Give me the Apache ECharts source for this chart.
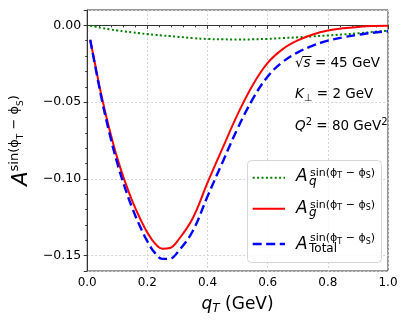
<!DOCTYPE html>
<html>
<head>
<meta charset="utf-8">
<script src="https://cdn.jsdelivr.net/npm/echarts@6/dist/echarts.min.js"></script>
<style>
  html, body { margin: 0; padding: 0; background: #fff; }
  #chart { width: 409px; height: 327px; }
</style>
</head>
<body>
<div id="chart"></div>
<script>
// q_T (GeV)
var qT = [0.01, 0.03, 0.05, 0.075, 0.1, 0.125, 0.15, 0.175, 0.2, 0.225, 0.25, 0.275, 0.3, 0.35,
          0.4, 0.45, 0.5, 0.55, 0.6, 0.65, 0.7, 0.75, 0.8, 0.85, 0.9, 0.95, 1.0];
// quark part (green dotted)
var aQ = [-0.0002, -0.0010, -0.0018, -0.0026, -0.0033, -0.0040, -0.0046, -0.0052, -0.0057, -0.0062,
          -0.0066, -0.0070, -0.0074, -0.0083, -0.0089, -0.0091, -0.0092, -0.0091, -0.0088, -0.0083,
          -0.0078, -0.0072, -0.0066, -0.0059, -0.0052, -0.0043, -0.0035];
// gluon part (red solid)
var aG = [-0.0093, -0.0290, -0.0480, -0.0685, -0.0865, -0.1015, -0.1145, -0.1255, -0.1350, -0.1420,
          -0.1455, -0.1450, -0.1405, -0.1260, -0.1025, -0.0800, -0.0580, -0.0390, -0.0245, -0.0155,
          -0.0098, -0.0060, -0.0034, -0.0019, -0.0010, -0.0005, -0.0003];
// total (blue dashed)
var aTot = [-0.0095, -0.0300, -0.0498, -0.0711, -0.0898, -0.1055, -0.1191, -0.1307, -0.1407, -0.1482,
            -0.1521, -0.1520, -0.1479, -0.1343, -0.1114, -0.0891, -0.0672, -0.0481, -0.0333, -0.0238,
            -0.0176, -0.0132, -0.0100, -0.0078, -0.0062, -0.0048, -0.0038];

var xTicks = [0, 0.2, 0.4, 0.6, 0.8, 1.0];
var FONT = 'DejaVu Sans';
var chart = echarts.init(document.getElementById('chart'));

function pairs(ys) {
    var out = [];
    for (var i = 0; i < qT.length; i++) out.push([qT[i], ys[i]]);
    return out;
}
function minus(v, d) {
    return v.toFixed(d).replace('-', '\u2212');
}

// superscript "sin(phi_T - phi_S)" for the legend
var supRich = {
    s: { fontFamily: FONT, fontSize: 11, lineHeight: 13, color: '#000' },
    t: { fontFamily: FONT, fontSize: 8, lineHeight: 8, padding: [6, 0, 0, 0], color: '#000' }
};
var supText = '{s|sin(\u03d5}{t|T}{s| \u2212 \u03d5}{t|S}{s|)}';

function txt(x, y, style) {
    style.align = 'left';
    style.verticalAlign = 'middle';
    if (!style.fill) style.fill = '#000';
    return { type: 'text', x: x, y: y, z: 100, style: style };
}

// legend (box, line samples, labels)
var legendRows = [
    { lineY: 177.7, aY: 176.5, supY: 173.3, subY: 181.8, sub: 'q', italic: true,
      stroke: '#008000', width: 2, dash: [2, 2.4] },
    { lineY: 208.7, aY: 208.5, supY: 205, subY: 213.3, sub: 'g', italic: true,
      stroke: '#ff0000', width: 2, dash: null },
    { lineY: 244, aY: 244.3, supY: 238.5, subY: 249, sub: 'Total', italic: false,
      stroke: '#0000ff', width: 2.4, dash: [9, 4.5] }
];
var graphics = [{
    type: 'rect', z: 99,
    shape: { x: 247.5, y: 160.5, width: 134, height: 102, r: 4 },
    style: { fill: 'rgba(255,255,255,0.85)', stroke: '#d6d6d6', lineWidth: 1 }
}];
legendRows.forEach(function (r) {
    graphics.push({
        type: 'line', z: 100,
        shape: { x1: 252.7, y1: r.lineY, x2: 285, y2: r.lineY },
        style: { stroke: r.stroke, lineWidth: r.width, lineDash: r.dash }
    });
    graphics.push(txt(296, r.aY, { text: 'A', font: 'italic 17px ' + FONT }));
    graphics.push(txt(310, r.supY, { text: supText, rich: supRich }));
    graphics.push(txt(309, r.subY, { text: r.sub, font: (r.italic ? 'italic ' : '') + '12px ' + FONT }));
});

// parameter annotations
var annRich = {
    m: { fontFamily: FONT, fontSize: 13.5, lineHeight: 18, color: '#000' },
    i: { fontFamily: FONT, fontSize: 13.5, lineHeight: 18, fontStyle: 'italic', color: '#000' },
    sp: { fontFamily: FONT, fontSize: 10, lineHeight: 10, verticalAlign: 'top', color: '#000' },
    sb: { fontFamily: FONT, fontSize: 10, lineHeight: 10, verticalAlign: 'bottom', color: '#000' }
};
graphics.push(
    txt(295, 63, { text: '{m|\u221a}{i|s}{m| = 45 GeV}', rich: annRich }),
    { type: 'line', z: 100, shape: { x1: 303, y1: 56.5, x2: 311.5, y2: 56.5 },
      style: { stroke: '#000', lineWidth: 1 } },
    txt(295, 94.5, { text: '{i|K}{sb|\u22a5}{m| = 2 GeV}', rich: annRich }),
    txt(295, 126.5, { text: '{i|Q}{sp|2}{m| = 80 GeV}{sp|2}', rich: annRich })
);

var option = {
    animation: false,
    backgroundColor: '#fff',
    grid: { left: 80, right: 21, top: 10, bottom: 56, show: true, borderColor: '#333', borderWidth: 1 },
    xAxis: {
        type: 'value', min: xTicks[0], max: xTicks[xTicks.length - 1], interval: 0.2,
        name: '{i|q}{sb|T}{m| (GeV)}',
        nameLocation: 'middle', nameGap: 24,
        nameTextStyle: {
            rich: {
                m: { fontFamily: FONT, fontSize: 17, lineHeight: 20, color: '#000' },
                i: { fontFamily: FONT, fontSize: 17, lineHeight: 20, fontStyle: 'italic', color: '#000' },
                sb: { fontFamily: FONT, fontSize: 12, lineHeight: 12, verticalAlign: 'bottom', fontStyle: 'italic', color: '#000' }
            }
        },
        axisLine: { show: true, lineStyle: { color: '#333', width: 1 } },
        axisTick: { show: true, length: 3.5, lineStyle: { color: '#333' } },
        minorTick: { show: true, splitNumber: 5, length: 2, lineStyle: { color: '#333' } },
        axisLabel: { fontFamily: FONT, fontSize: 12, color: '#000', margin: 6,
                     formatter: function (v) { return minus(v, 1); } },
        splitLine: { show: true, lineStyle: { color: '#d4d4d4', type: [2, 2], width: 1 } }
    },
    yAxis: {
        type: 'value', min: -0.16, max: 0.01, splitNumber: 4, minInterval: 0.05, maxInterval: 0.05,
        name: '{a|A}{s|sin(\u03d5}{t|T}{s| \u2212 \u03d5}{t|S}{s|)}',
        nameLocation: 'middle', nameGap: 51,
        nameTextStyle: {
            rich: {
                a: { fontFamily: FONT, fontSize: 21, lineHeight: 24, fontStyle: 'italic', verticalAlign: 'bottom', color: '#000' },
                s: { fontFamily: FONT, fontSize: 13, lineHeight: 15, verticalAlign: 'top', color: '#000' },
                t: { fontFamily: FONT, fontSize: 9, lineHeight: 9, verticalAlign: 'top', padding: [8, 0, 0, 0], color: '#000' }
            }
        },
        axisLine: { show: true, lineStyle: { color: '#333', width: 1 } },
        axisTick: { show: true, length: 3.5, lineStyle: { color: '#333' } },
        minorTick: { show: true, splitNumber: 5, length: 2, lineStyle: { color: '#333' } },
        axisLabel: { fontFamily: FONT, fontSize: 12.5, color: '#000', margin: 6,
                     showMinLabel: false, showMaxLabel: false,
                     formatter: function (v) { return minus(v, 2); } },
        splitLine: { show: true, lineStyle: { color: '#d4d4d4', type: [2, 2], width: 1 } }
    },
    graphic: graphics,
    series: [
        { name: 'q', type: 'line', data: pairs(aQ), symbol: 'none', smooth: 0.4, z: 2,
          lineStyle: { color: '#008000', width: 2, type: [2, 2.4] } },
        { name: 'g', type: 'line', data: pairs(aG), symbol: 'none', smooth: 0.4, z: 3,
          lineStyle: { color: '#ff0000', width: 2 } },
        { name: 'Total', type: 'line', data: pairs(aTot), symbol: 'none', smooth: 0.4, z: 4,
          lineStyle: { color: '#0000ff', width: 2.4, type: [9, 4.5] } }
    ]
};
chart.setOption(option);
</script>
</body>
</html>
